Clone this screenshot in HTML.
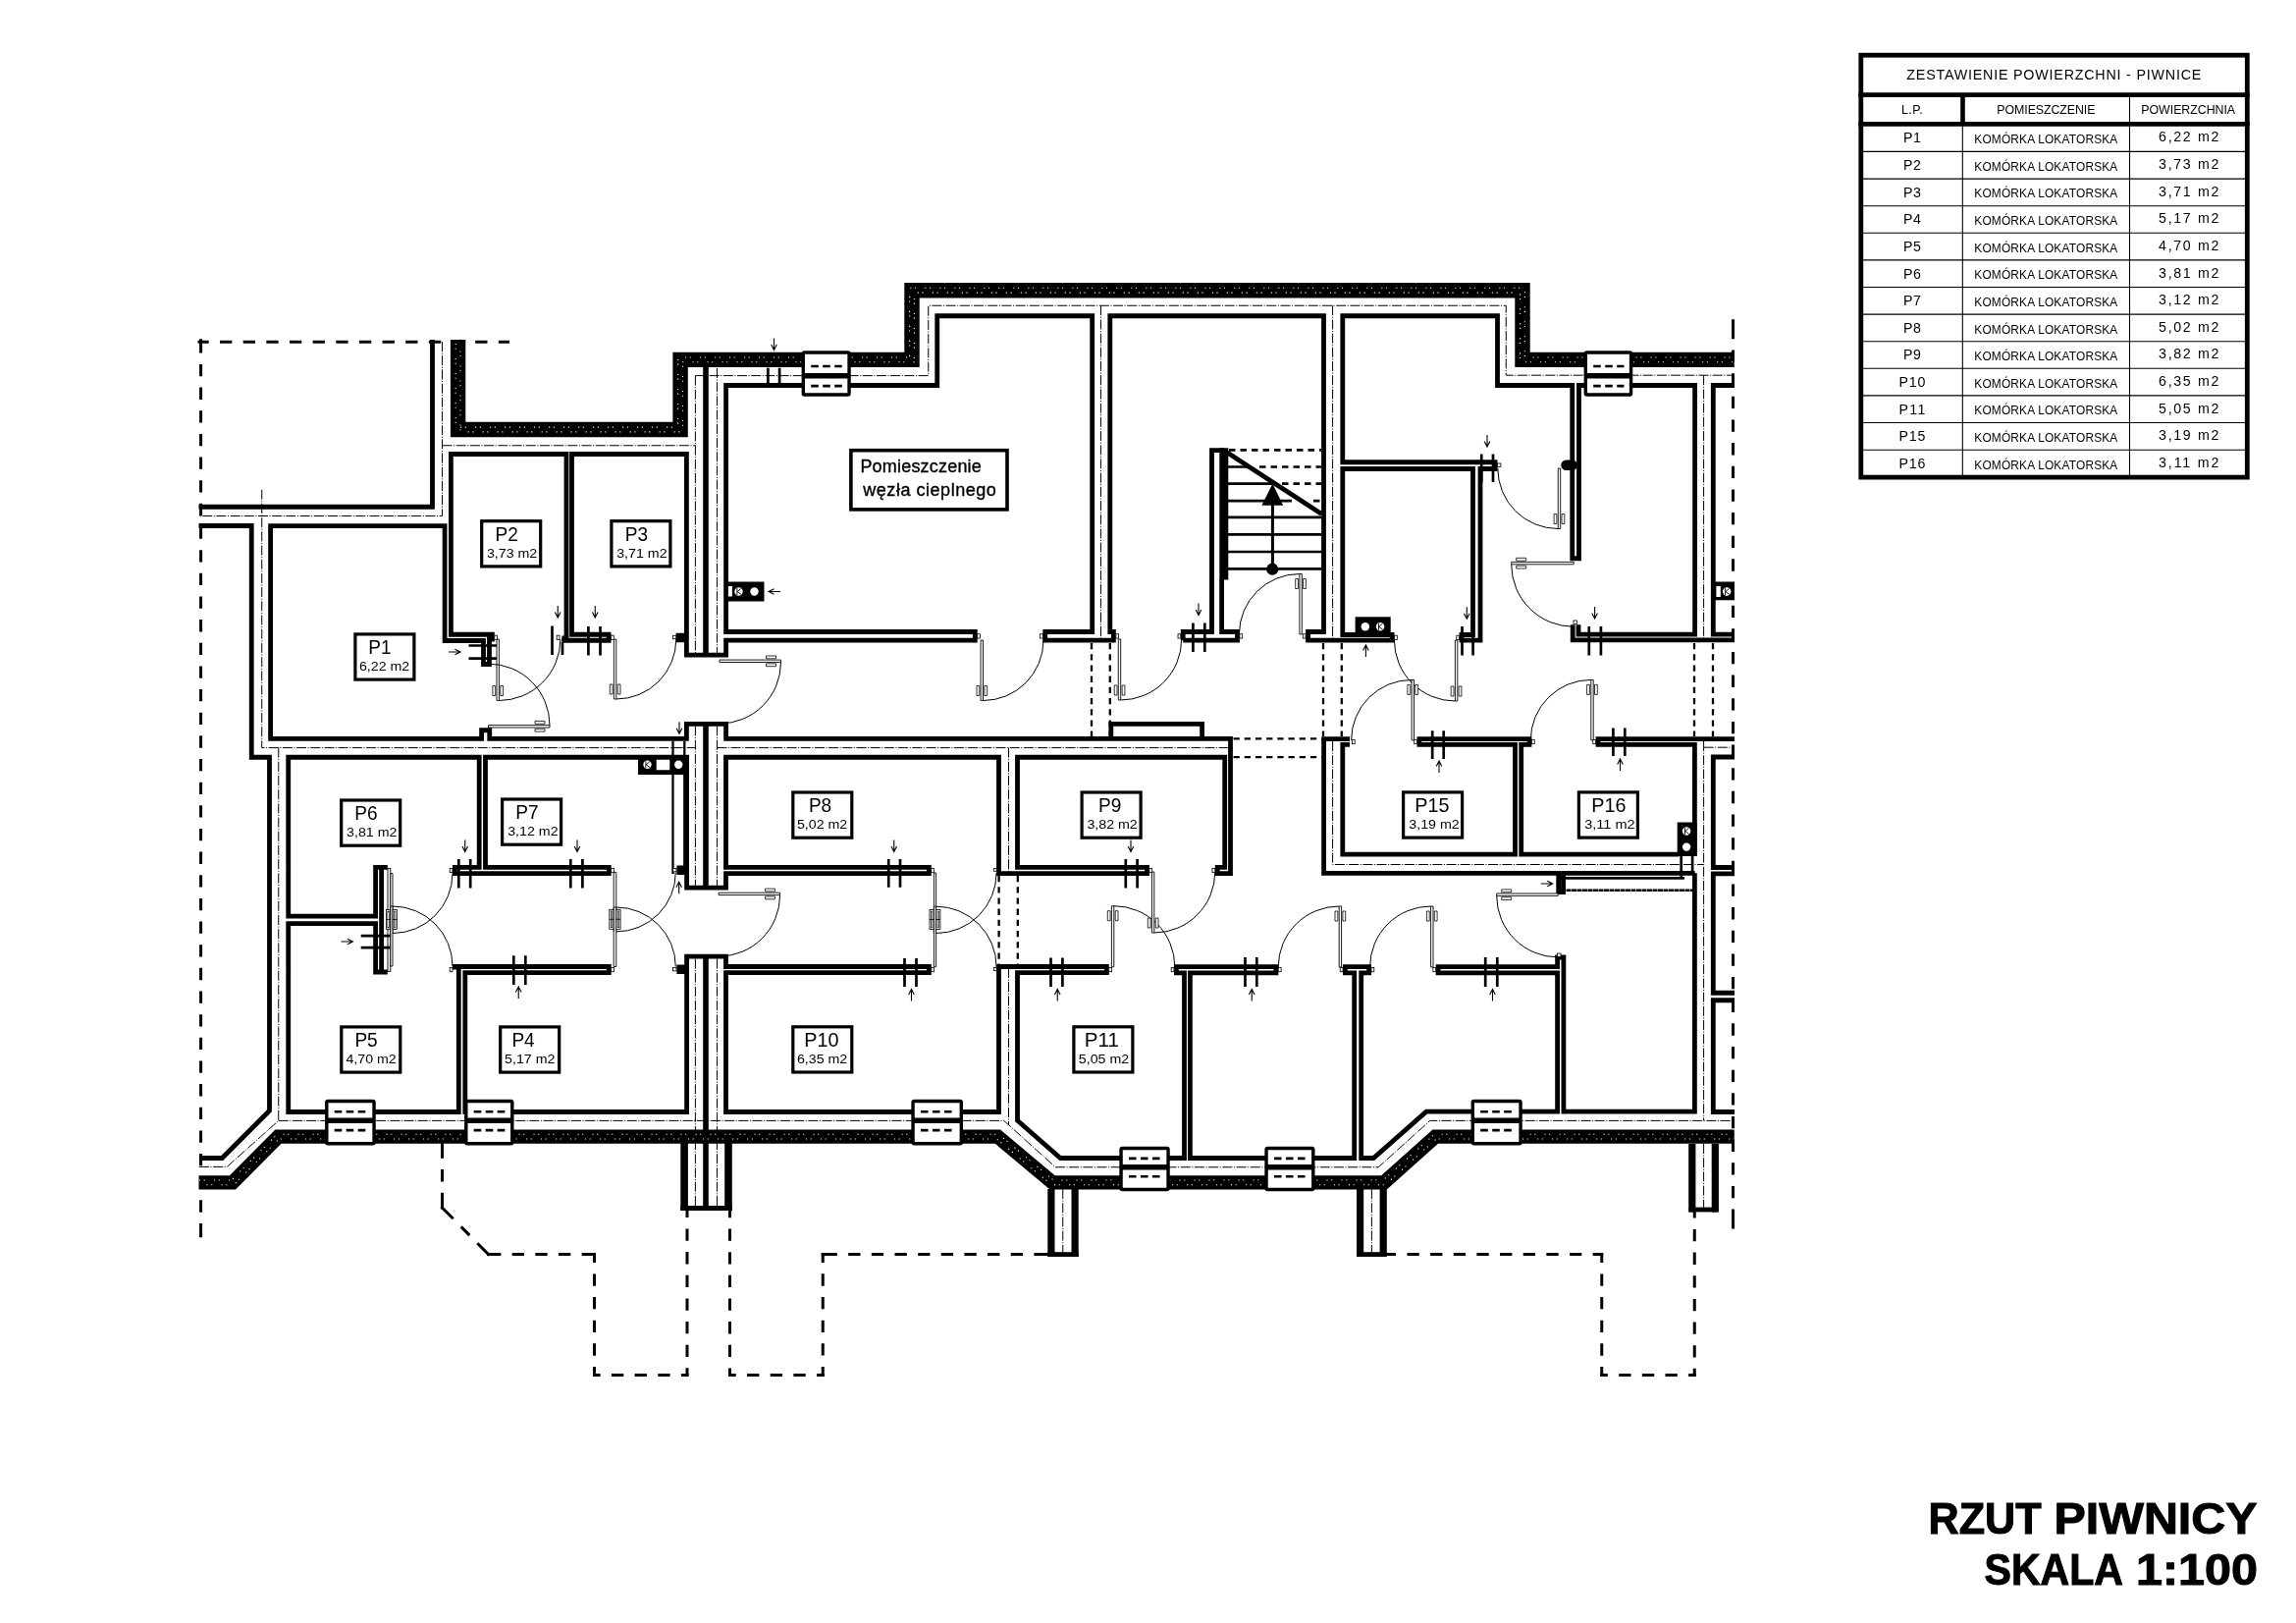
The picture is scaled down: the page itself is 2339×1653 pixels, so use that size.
<!DOCTYPE html>
<html lang="pl"><head><meta charset="utf-8"><title>Rzut piwnicy</title>
<style>
html,body{margin:0;padding:0;background:#fff}
svg{display:block;will-change:transform}
text{font-family:"Liberation Sans", "DejaVu Sans", sans-serif;fill:#000}
.r{fill:none;stroke:#000;stroke-width:4.8;stroke-linejoin:miter;stroke-linecap:butt}
.e{fill:none;stroke:#000;stroke-width:15.4;stroke-linejoin:miter}
.ed{fill:none;stroke:#fff;stroke-width:1.1;stroke-dasharray:1.1 3.6 1.1 9.2}
.ed2{stroke-dashoffset:7.5}
.c{fill:none;stroke:#000;stroke-width:1;stroke-dasharray:10 1.6 1 1.6}
.h{fill:none;stroke:#000;stroke-width:3;stroke-dasharray:12.3 11.35}
.hs{fill:none;stroke:#000;stroke-width:3;stroke-linecap:butt}
.l{fill:none;stroke:#000;stroke-width:2.3;stroke-dasharray:6.3 4.9}
.t{fill:none;stroke:#000;stroke-width:.9}
.k{fill:none;stroke:#000;stroke-width:2.7}
.p{fill:none;stroke:#000;stroke-width:5.6}
.dl{fill:#fff;stroke:#000;stroke-width:.9}
.da{fill:none;stroke:#000;stroke-width:1}
.dh{fill:#fff;stroke:#000;stroke-width:.8}
.ar{fill:none;stroke:#000;stroke-width:1.1}
.w{fill:#fff;stroke:#000;stroke-width:3.4}
.wb{fill:none;stroke:#000;stroke-width:5.6}
.wd{fill:none;stroke:#000;stroke-width:2.6;stroke-dasharray:7.6 4.4}
.m{fill:#fff;stroke:#000;stroke-width:.8}
.lb{fill:#fff;stroke:#000;stroke-width:3.2}
.s{fill:none;stroke:#000;stroke-width:2.7}
.sd{fill:none;stroke:#000;stroke-width:2.7;stroke-dasharray:6.5 5}
.eb{stroke-width:14.4}
.b{stroke:#000;stroke-width:.35}
.tt{stroke:#000;stroke-width:1}
.pr{fill:none;stroke:#000;stroke-width:7.6}
.pr2{fill:none;stroke:#000;stroke-width:7.2}
.sw{fill:none;stroke:#000;stroke-width:9}
.s2{fill:none;stroke:#000;stroke-width:2.4;stroke-dasharray:5 .5}
.k2{fill:none;stroke:#000;stroke-width:2.3}
</style></head><body>
<svg width="2339" height="1653" viewBox="0 0 2339 1653">
<rect width="2339" height="1653" fill="#fff"/>
<g id="rzut">
<path class="hs" d="M201.50,348.20 L519.00,348.20" stroke-dasharray="11.18 11.35 12.30 11.35 12.30 11.35 12.30 11.35 12.30 11.35 12.30 11.35 12.30 11.35 12.30 11.35 12.30 11.35 12.30 11.35 12.30 11.35 12.30 11.35 12.30 11.35 11.18 0 9999"/>
<path class="hs" d="M204.60,345.30 L204.60,1260.25" stroke-dasharray="14.28 11.35 12.30 11.35 12.30 11.35 12.30 11.35 12.30 11.35 12.30 11.35 12.30 11.35 12.30 11.35 12.30 11.35 12.30 11.35 12.30 11.35 12.30 11.35 12.30 11.35 12.30 11.35 12.30 11.35 12.30 11.35 12.30 11.35 12.30 11.35 12.30 11.35 12.30 11.35 12.30 11.35 12.30 11.35 12.30 11.35 12.30 11.35 12.30 11.35 12.30 11.35 12.30 11.35 12.30 11.35 12.30 11.35 12.30 11.35 12.30 11.35 12.30 11.35 12.30 11.35 12.30 11.35 12.30 11.35 12.30 11.35 12.30 11.35 12.30 11.35 14.28 0 9999"/>
<path class="hs" d="M450.50,1163.00 L450.50,1231.50" stroke-dasharray="16.75 11.35 12.30 11.35 16.75 0 9999"/>
<path class="hs" d="M449.44,1228.93 L498.56,1278.57" stroke-dasharray="17.41 11.35 12.30 11.35 17.41 0 9999"/>
<path class="hs" d="M496.00,1277.50 L607.00,1277.50" stroke-dasharray="14.35 11.35 12.30 11.35 12.30 11.35 12.30 11.35 14.35 0 9999"/>
<path class="hs" d="M605.50,1276.00 L605.50,1402.00" stroke-dasharray="10.03 11.35 12.30 11.35 12.30 11.35 12.30 11.35 12.30 11.35 10.03 0 9999"/>
<path class="hs" d="M604.00,1400.50 L701.50,1400.50" stroke-dasharray="7.60 11.35 12.30 11.35 12.30 11.35 12.30 11.35 7.60 0 9999"/>
<path class="hs" d="M700.00,1402.00 L700.00,1231.50" stroke-dasharray="8.63 11.35 12.30 11.35 12.30 11.35 12.30 11.35 12.30 11.35 12.30 11.35 12.30 11.35 8.63 0 9999"/>
<path class="hs" d="M743.50,1231.50 L743.50,1402.00" stroke-dasharray="8.63 11.35 12.30 11.35 12.30 11.35 12.30 11.35 12.30 11.35 12.30 11.35 12.30 11.35 8.63 0 9999"/>
<path class="hs" d="M742.00,1400.50 L839.75,1400.50" stroke-dasharray="7.73 11.35 12.30 11.35 12.30 11.35 12.30 11.35 7.73 0 9999"/>
<path class="hs" d="M838.25,1402.00 L838.25,1276.00" stroke-dasharray="10.03 11.35 12.30 11.35 12.30 11.35 12.30 11.35 12.30 11.35 10.03 0 9999"/>
<path class="hs" d="M836.75,1277.50 L1069.50,1277.50" stroke-dasharray="16.10 11.35 12.30 11.35 12.30 11.35 12.30 11.35 12.30 11.35 12.30 11.35 12.30 11.35 12.30 11.35 12.30 11.35 16.10 0 9999"/>
<path class="hs" d="M1411.50,1277.50 L1633.25,1277.50" stroke-dasharray="10.60 11.35 12.30 11.35 12.30 11.35 12.30 11.35 12.30 11.35 12.30 11.35 12.30 11.35 12.30 11.35 12.30 11.35 10.60 0 9999"/>
<path class="hs" d="M1631.75,1276.00 L1631.75,1402.00" stroke-dasharray="10.03 11.35 12.30 11.35 12.30 11.35 12.30 11.35 12.30 11.35 10.03 0 9999"/>
<path class="hs" d="M1630.25,1400.50 L1727.75,1400.50" stroke-dasharray="7.60 11.35 12.30 11.35 12.30 11.35 12.30 11.35 7.60 0 9999"/>
<path class="hs" d="M1726.25,1402.00 L1726.25,1232.50" stroke-dasharray="8.13 11.35 12.30 11.35 12.30 11.35 12.30 11.35 12.30 11.35 12.30 11.35 12.30 11.35 8.13 0 9999"/>
<path class="hs" d="M1765.50,325.20 L1765.50,1251.50" stroke-dasharray="19.95 11.35 12.30 11.35 12.30 11.35 12.30 11.35 12.30 11.35 12.30 11.35 12.30 11.35 12.30 11.35 12.30 11.35 12.30 11.35 12.30 11.35 12.30 11.35 12.30 11.35 12.30 11.35 12.30 11.35 12.30 11.35 12.30 11.35 12.30 11.35 12.30 11.35 12.30 11.35 12.30 11.35 12.30 11.35 12.30 11.35 12.30 11.35 12.30 11.35 12.30 11.35 12.30 11.35 12.30 11.35 12.30 11.35 12.30 11.35 12.30 11.35 12.30 11.35 12.30 11.35 12.30 11.35 12.30 11.35 12.30 11.35 12.30 11.35 12.30 11.35 19.95 0 9999"/>
<path class="c" d="M450.5,348 V525.5 H203"/>
<path class="c" d="M450.5,453.75 H708.4"/>
<path class="c" d="M266.75,498.75 V761.6 H708.4 M730.5,761.6 H1251"/>
<path class="c" d="M283.75,761.6 V1141.4 L231.25,1188.4 H203"/>
<path class="c" d="M283.75,1141.4 H1022.75 L1075.25,1188.75 H1404.25 L1456.75,1141.4 H1766"/>
<path class="c" d="M708.4,382.6 V665 M708.4,739.5 V902 M708.4,976.5 V1230"/>
<path class="c" d="M730.5,375 V665 M730.5,739.5 V902 M730.5,976.5 V1230"/>
<path class="c" d="M708.4,382.6 H945.75 V311.25 H1534.25 V382.2 H1766"/>
<path class="c" d="M1121.5,311.25 V652"/>
<path class="c" d="M1357.6,311.25 V652 M1357.6,755 V880.5 H1735.6"/>
<path class="c" d="M1735.6,382.2 V651 M1735.6,755 V1141.4 M1735.6,1165 V1230"/>
<path class="c" d="M1027.5,761.6 V889 M1027.5,986 V1146"/>
<path class="c" d="M1735.6,761.2 H1766"/>
<path class="c" d="M1082.75,1211 V1276 M1397.4,1211 V1276"/>
<path class="p" d="M719,374 V667.1 M719,737.3 V904.2 M719,974.2 V1232"/>
<path class="l" d="M1112,655 V750 M1130.8,655 V750"/>
<path class="l" d="M1348,655 V750 M1366.8,655 V750"/>
<path class="l" d="M1726,655 V750 M1745,655 V750"/>
<path class="l" d="M1256.5,752.3 H1347 M1256.5,771.2 H1347"/>
<path class="l" d="M1017.6,892 V982.5 M1036.8,892 V982.5"/>
<path class="e" d="M466.6,346 V437.5 H693.1 V366.4 H929 V295.7 H1551 V366.4 H1766.75"/>
<path class="ed" d="M464.2,350 V435.1 H690.7 V364 H926.6 V293.3 H1553.4 V364 H1766"/>
<path class="ed ed2" d="M469,350 V439.9 H695.5 V368.8 H931.4 V298.1 H1548.6 V368.8 H1766"/>
<path class="e eb" d="M202.5,1204.4 H237 L283.4,1157.6 H1016.4 L1072.2,1204.4 H1410 L1462.2,1157.6 H1766.75"/>
<path class="ed" d="M203,1202 H236 L282.4,1155.2 H1017.4 L1073.2,1202 H1409 L1461.2,1155.2 H1766"/>
<path class="ed ed2" d="M203,1206.8 H238 L284.4,1160 H1015.4 L1071.2,1206.8 H1411 L1463.2,1160 H1766"/>
<path class="pr" d="M697.1,1164 V1233 M742,1164 V1233"/>
<path class="r" d="M693.3,1230.5 H745.8"/>
<path class="pr2" d="M1070.9,1211 V1280 M1095.1,1211 V1280"/>
<path class="r" d="M1067.3,1277.6 H1098.7"/>
<path class="pr2" d="M1385.6,1211 V1280 M1409.2,1211 V1280"/>
<path class="r" d="M1382.4,1277.6 H1412.4"/>
<path class="pr2" d="M1723.8,1165 V1234.5 M1747.3,1165 V1234.5"/>
<path class="r" d="M1720.6,1232 H1750.5"/>
<path class="r" d="M202.5,516.25 H440.5 V346"/>
<path class="r" d="M202.5,535.5 H256.25 V771.25 H274.5 V1131.25 L226.25,1179.5 H203"/>
<path class="r" d="M394.8,883.3 H382.6 V933.2 H293.75 V771.25 H488.2 V883.4 H463.4 V889.6 H620.3 V883.4 H494.5 V771.25 H699.6 V904.2 H739.5 V889.6 H946.4 V883.4 H739.5 V771.25 H1017.5 V889.6 H1168.5 V883.4 H1036.5 V771.25 H1247.7 V883.4 H1240.2 V889.6 H1253.5 V752.4 H739.6 V737.3 H699.4 V752.4 H498.75 V743.75 H490.6 V752.4 H275.6 V535.6 H453.1 V652.5 H492.5 V676.5 H498.5 V651.2 H501.4 V646.25 H459.4 V462.5 H577 V650 H572.4"/>
<path class="r" d="M572.4,652.25 H620.1 V646.25 H582.5 V462.5 H699.4 V667.1 H739.6 V652.2 H993.3 V643.5 H739.6 V392.5 H954.75 V321.75 H1112.7 V643.5 H1064.7 V652.2 H1134.4 V643.5 H1130.8 V321.75 H1348.5 V643.5 H1332.5 V652.2 H1418.1 V646.5 H1367.8 V477.5 H1500.5 V646.5 H1489 V652.2 H1508 V477.5 H1523.1 V470.75 H1367.8 V321.75 H1525.5 V392.5 H1601.75 V568.75 H1608.5 V392.5 H1726.6 V646.2 H1608 V636.3"/>
<path d="M1595.5,473.8 H1601.75" stroke="#000" stroke-width="10.5" stroke-linecap="round" fill="none"/>
<path class="r" d="M1602.2,636.3 V651.9 H1767"/>
<path class="r" d="M1205.2,652.2 V643.5 H1234.5 V458.7 H1246.8"/>
<path class="r" d="M1205.2,652.2 H1260.5 V643.5 H1244.6 V590"/>
<path class="sw" d="M1246.8,456.3 V590.5"/>
<path class="r" d="M1767,392.5 H1745.3 V646.2 H1767"/>
<path class="r" d="M1767,771 H1745.3 V883.5 H1767"/>
<path class="r" d="M1767,889.8 H1745.3 V1011.25 H1767"/>
<path class="r" d="M1767,1018.75 H1745.3 V1132.5 H1767"/>
<path class="r" d="M394.8,990 H382.6 V940.6 H293.75 V1132.5 H467.3 V984.7"/>
<path class="r" d="M388.6,883.3 V990"/>
<path class="r" d="M463.4,987.5 V984.5 H620.3 V990.7 H473.8 V1132.5 H699.6 V974.2 H739.5 V984.5 H946.4 V990.7 H739.5 V1132.5 H1017.5 V984.5"/>
<path class="r" d="M1015.2,984.5 H1127.4 V990.7 H1036.5 V1141.25 L1080.25,1179.5 H1206.5 V990.8 H1198.4 V984.6 H1299.9 V990.8 H1212.4 V1179.5 H1379.7 V990.8 H1370.4 V984.6 H1394.6 V990.8 H1386.7 V1179.5 H1399.25 L1453,1132.2 H1586.6 V990.8 H1465.1 V984.6 H1586.6 V975 H1592.9 V1132.2 H1726.4 V889.3"/>
<path class="r" d="M1375,752.6 H1348.6 V889.3 H1587.7 V908.5 H1592.6 V889.3"/>
<path class="r" d="M1375,758.3 H1367.8 V870.2 H1543.5 V758.3 H1445.9 V752.6 H1558 V758.3 H1549.7 V870.2 H1710"/>
<path class="r" d="M1767,752.6 H1628 V758.3 H1726.4 V872"/>
<path class="r" d="M1590.2,889.3 H1726.6"/>
<path class="k" d="M1590,894.4 H1716 M1712.7,872 V895.5 M1724.1,872 V890"/>
<path class="s2" d="M1590,906.7 H1726"/>
<path class="r" d="M1131.8,752.5 V737.4 H1224.6 V752.5"/>
<path d="M688.6,649.5 H699.4 M689.4,886.3 H699.6 M689.4,987.3 H699.6" stroke="#000" stroke-width="9.6" fill="none"/>
<path class="k2" d="M685.5,755 V890 M697.3,755 V884"/>
<path class="s" d="M1249,475.5 H1275 M1249,492.6 H1297 M1249,510.2 H1316 M1249,526.8 H1346 M1249,544.4 H1346 M1249,562 H1346 M1249,579.4 H1346"/>
<path class="sd" d="M1252,458.4 H1346 M1283,475.5 H1346 M1306,492.6 H1346 M1338,510.2 H1346"/>
<path d="M1248.5,459.8 L1346.3,523.4" stroke="#000" stroke-width="4.8" fill="none"/>
<path d="M1296.4,579 V512" stroke="#000" stroke-width="3" fill="none"/>
<path d="M1296.4,492.5 L1307.2,514.8 H1285.4 Z" fill="#000"/>
<circle cx="1296.2" cy="579.7" r="6.1" fill="#000"/>
<rect x="818.3" y="359.0" width="46.75" height="43.0" rx="1.2" ry="1.2" class="w"/>
<path class="wb" d="M818.3,382.80 H865.05"/>
<path class="wd" d="M826.20,373.00 H857.95 M826.20,393.15 H857.95"/>
<rect x="1615.3" y="359.0" width="46.25" height="43.0" rx="1.2" ry="1.2" class="w"/>
<path class="wb" d="M1615.3,382.80 H1661.55"/>
<path class="wd" d="M1623.20,373.00 H1654.45 M1623.20,393.15 H1654.45"/>
<rect x="332.8" y="1121.5" width="48.25" height="43.25" rx="1.2" ry="1.2" class="w"/>
<path class="wb" d="M332.8,1141.28 H381.05"/>
<path class="wd" d="M340.70,1132.26 H373.95 M340.70,1151.08 H373.95"/>
<rect x="474.8" y="1121.5" width="46.99999999999994" height="43.25" rx="1.2" ry="1.2" class="w"/>
<path class="wb" d="M474.8,1141.28 H521.8"/>
<path class="wd" d="M482.70,1132.26 H514.70 M482.70,1151.08 H514.70"/>
<rect x="930.05" y="1121.5" width="49.25" height="43.25" rx="1.2" ry="1.2" class="w"/>
<path class="wb" d="M930.05,1141.28 H979.3"/>
<path class="wd" d="M937.95,1132.26 H972.20 M937.95,1151.08 H972.20"/>
<rect x="1500.3" y="1121.5" width="48.75" height="43.25" rx="1.2" ry="1.2" class="w"/>
<path class="wb" d="M1500.3,1141.28 H1549.05"/>
<path class="wd" d="M1508.20,1132.26 H1541.95 M1508.20,1151.08 H1541.95"/>
<rect x="1142.05" y="1169.5" width="48.0" height="42" rx="1.2" ry="1.2" class="w"/>
<path class="wb" d="M1142.05,1188.70 H1190.05"/>
<path class="wd" d="M1149.95,1179.92 H1182.95 M1149.95,1198.24 H1182.95"/>
<rect x="1290.05" y="1169.5" width="47.75" height="42" rx="1.2" ry="1.2" class="w"/>
<path class="wb" d="M1290.05,1188.70 H1337.8"/>
<path class="wd" d="M1297.95,1179.92 H1330.70 M1297.95,1198.24 H1330.70"/>
<rect x="739" y="592.5" width="39.5" height="20.0" fill="#000"/>
<circle cx="752.5" cy="602.5" r="4.2" fill="#fff"/>
<path d="M750.9,599.1 V605.9 M754.7,599.5 L751.3,602.5 L755.1,605.5" stroke="#000" stroke-width="0.9" fill="none"/>
<circle cx="768.5" cy="602.5" r="4.2" fill="#fff"/>
<rect x="650" y="770" width="51.5" height="19" fill="#000"/>
<circle cx="659.5" cy="778.75" r="4.2" fill="#fff"/>
<path d="M657.9,775.35 V782.15 M661.7,775.75 L658.3,778.75 L662.1,781.75" stroke="#000" stroke-width="0.9" fill="none"/>
<circle cx="691.25" cy="778.75" r="4.2" fill="#fff"/>
<rect x="668.75" y="773.75" width="13.5" height="10.5" fill="#fff"/>
<rect x="1380.6" y="628.3" width="36.100000000000136" height="18.200000000000045" fill="#000"/>
<circle cx="1390.8" cy="638.3" r="4.2" fill="#fff"/>
<circle cx="1406.1" cy="638.3" r="4.2" fill="#fff"/>
<path d="M1404.5,634.9 V641.6999999999999 M1408.3,635.3 L1404.8999999999999,638.3 L1408.6999999999998,641.3" stroke="#000" stroke-width="0.9" fill="none"/>
<rect x="1708.7" y="837.5" width="19.899999999999864" height="34.5" fill="#000"/>
<circle cx="1718.1" cy="846.5" r="4.2" fill="#fff"/>
<path d="M1716.5,843.1 V849.9 M1720.3,843.5 L1716.8999999999999,846.5 L1720.6999999999998,849.5" stroke="#000" stroke-width="0.9" fill="none"/>
<circle cx="1718.1" cy="862.6" r="4.2" fill="#fff"/>
<rect x="1745.3" y="592.5" width="21.700000000000045" height="18.799999999999955" fill="#000"/>
<circle cx="1759.2" cy="602.5" r="4.2" fill="#fff"/>
<path d="M1757.6000000000001,599.1 V605.9 M1761.4,599.5 L1758.0,602.5 L1761.8,605.5" stroke="#000" stroke-width="0.9" fill="none"/>
<rect x="1748.4" y="597" width="4.4" height="11" fill="#fff"/>
<rect x="741.9" y="597" width="4" height="10.5" fill="#fff"/>
<path class="dl" d="M508.40,651.00 L508.40,713.50 L506.00,713.50 L506.00,651.00 Z"/>
<path class="da" d="M508.40,713.50 A62.5,62.5 0 0 0 570.90,651.00"/>
<path class="dh" d="M509.80,698.50 L509.80,708.50 L512.60,708.50 L512.60,698.50 Z"/>
<path class="dh" d="M504.70,698.50 L504.70,708.50 L501.90,708.50 L501.90,698.50 Z"/>
<path class="dl" d="M497.50,738.60 L560.00,738.60 L560.00,741.00 L497.50,741.00 Z"/>
<path class="da" d="M560.00,738.60 A62.5,62.5 0 0 0 497.50,676.10"/>
<path class="dh" d="M545.00,737.20 L555.00,737.20 L555.00,734.40 L545.00,734.40 Z"/>
<path class="dh" d="M545.00,742.30 L555.00,742.30 L555.00,745.10 L545.00,745.10 Z"/>
<path class="dl" d="M627.80,651.00 L627.80,712.00 L625.40,712.00 L625.40,651.00 Z"/>
<path class="da" d="M627.80,712.00 A61,61 0 0 0 688.80,651.00"/>
<path class="dh" d="M629.20,697.00 L629.20,707.00 L632.00,707.00 L632.00,697.00 Z"/>
<path class="dh" d="M624.10,697.00 L624.10,707.00 L621.30,707.00 L621.30,697.00 Z"/>
<path class="dl" d="M733.00,674.50 L795.50,674.50 L795.50,672.10 L733.00,672.10 Z"/>
<path class="da" d="M795.50,674.50 A62.5,62.5 0 0 1 733.00,737.00"/>
<path class="dh" d="M780.50,675.90 L790.50,675.90 L790.50,678.70 L780.50,678.70 Z"/>
<path class="dh" d="M780.50,670.80 L790.50,670.80 L790.50,668.00 L780.50,668.00 Z"/>
<path class="dl" d="M1001.50,652.00 L1001.50,713.50 L999.10,713.50 L999.10,652.00 Z"/>
<path class="da" d="M1001.50,713.50 A61.5,61.5 0 0 0 1063.00,652.00"/>
<path class="dh" d="M1002.90,698.50 L1002.90,708.50 L1005.70,708.50 L1005.70,698.50 Z"/>
<path class="dh" d="M997.80,698.50 L997.80,708.50 L995.00,708.50 L995.00,698.50 Z"/>
<path class="dl" d="M1141.70,651.00 L1141.70,713.00 L1139.30,713.00 L1139.30,651.00 Z"/>
<path class="da" d="M1141.70,713.00 A62,62 0 0 0 1203.70,651.00"/>
<path class="dh" d="M1143.10,698.00 L1143.10,708.00 L1145.90,708.00 L1145.90,698.00 Z"/>
<path class="dh" d="M1138.00,698.00 L1138.00,708.00 L1135.20,708.00 L1135.20,698.00 Z"/>
<path class="dl" d="M1323.90,646.00 L1323.90,584.50 L1326.30,584.50 L1326.30,646.00 Z"/>
<path class="da" d="M1323.90,584.50 A61.5,61.5 0 0 0 1262.40,646.00"/>
<path class="dh" d="M1322.50,599.50 L1322.50,589.50 L1319.70,589.50 L1319.70,599.50 Z"/>
<path class="dh" d="M1327.60,599.50 L1327.60,589.50 L1330.40,589.50 L1330.40,599.50 Z"/>
<path class="dl" d="M1482.40,652.00 L1482.40,714.00 L1484.80,714.00 L1484.80,652.00 Z"/>
<path class="da" d="M1482.40,714.00 A62,62 0 0 1 1420.40,652.00"/>
<path class="dh" d="M1481.00,699.00 L1481.00,709.00 L1478.20,709.00 L1478.20,699.00 Z"/>
<path class="dh" d="M1486.10,699.00 L1486.10,709.00 L1488.90,709.00 L1488.90,699.00 Z"/>
<path class="dl" d="M1587.30,477.00 L1587.30,538.50 L1589.70,538.50 L1589.70,477.00 Z"/>
<path class="da" d="M1587.30,538.50 A61.5,61.5 0 0 1 1525.80,477.00"/>
<path class="dh" d="M1585.90,523.50 L1585.90,533.50 L1583.10,533.50 L1583.10,523.50 Z"/>
<path class="dh" d="M1591.00,523.50 L1591.00,533.50 L1593.80,533.50 L1593.80,523.50 Z"/>
<path class="dl" d="M1603.20,574.80 L1539.70,574.80 L1539.70,572.40 L1603.20,572.40 Z"/>
<path class="da" d="M1539.70,574.80 A63.5,63.5 0 0 0 1603.20,638.30"/>
<path class="dh" d="M1554.70,576.20 L1544.70,576.20 L1544.70,579.00 L1554.70,579.00 Z"/>
<path class="dh" d="M1554.70,571.10 L1544.70,571.10 L1544.70,568.30 L1554.70,568.30 Z"/>
<rect x="395" y="884.4" width="2.8" height="105" class="dl"/>
<path class="dl" d="M400.00,889.50 L400.00,950.50 L397.80,950.50 L397.80,889.50 Z"/>
<path class="da" d="M400.00,950.50 A61,61 0 0 0 461.00,889.50"/>
<path class="dl" d="M400.00,984.00 L400.00,923.00 L397.80,923.00 L397.80,984.00 Z"/>
<path class="da" d="M400.00,923.00 A61,61 0 0 1 461.00,984.00"/>
<rect x="393.40" y="926.50" width="4.2" height="20" class="dh"/>
<rect x="394.80" y="928.10" width="1.5" height="16.8" fill="none" stroke="#000" stroke-width=".6"/>
<rect x="400.10" y="926.50" width="4.2" height="20" class="dh"/>
<rect x="401.50" y="928.10" width="1.5" height="16.8" fill="none" stroke="#000" stroke-width=".6"/>
<path class="dh" d="M393.40,936.5 H397.80 M400.00,936.5 H404.30"/>
<path class="dl" d="M627.80,888.40 L627.80,948.90 L625.20,948.90 L625.20,888.40 Z"/>
<path class="da" d="M627.80,948.90 A60.5,60.5 0 0 0 688.30,888.40"/>
<path class="dl" d="M627.80,984.50 L627.80,924.00 L625.20,924.00 L625.20,984.50 Z"/>
<path class="da" d="M627.80,924.00 A60.5,60.5 0 0 1 688.30,984.50"/>
<rect x="620.80" y="926.30" width="4.2" height="20" class="dh"/>
<rect x="622.20" y="927.90" width="1.5" height="16.8" fill="none" stroke="#000" stroke-width=".6"/>
<rect x="627.90" y="926.30" width="4.2" height="20" class="dh"/>
<rect x="629.30" y="927.90" width="1.5" height="16.8" fill="none" stroke="#000" stroke-width=".6"/>
<path class="dh" d="M620.80,936.3 H625.20 M627.80,936.3 H632.10"/>
<path class="dl" d="M732.10,911.60 L794.60,911.60 L794.60,909.20 L732.10,909.20 Z"/>
<path class="da" d="M794.60,911.60 A62.5,62.5 0 0 1 732.10,974.10"/>
<path class="dh" d="M779.60,913.00 L789.60,913.00 L789.60,915.80 L779.60,915.80 Z"/>
<path class="dh" d="M779.60,907.90 L789.60,907.90 L789.60,905.10 L779.60,905.10 Z"/>
<path class="dl" d="M953.60,889.00 L953.60,950.50 L951.40,950.50 L951.40,889.00 Z"/>
<path class="da" d="M953.60,950.50 A61.5,61.5 0 0 0 1015.10,889.00"/>
<path class="dl" d="M953.60,984.70 L953.60,923.20 L951.40,923.20 L951.40,984.70 Z"/>
<path class="da" d="M953.60,923.20 A61.5,61.5 0 0 1 1015.10,984.70"/>
<rect x="947.00" y="926.50" width="4.2" height="20" class="dh"/>
<rect x="948.40" y="928.10" width="1.5" height="16.8" fill="none" stroke="#000" stroke-width=".6"/>
<rect x="953.70" y="926.50" width="4.2" height="20" class="dh"/>
<rect x="955.10" y="928.10" width="1.5" height="16.8" fill="none" stroke="#000" stroke-width=".6"/>
<path class="dh" d="M947.00,936.5 H951.40 M953.60,936.5 H957.90"/>
<path class="dl" d="M1134.80,984.70 L1134.80,922.70 L1132.40,922.70 L1132.40,984.70 Z"/>
<path class="da" d="M1134.80,922.70 A62,62 0 0 1 1196.80,984.70"/>
<path class="dh" d="M1136.20,937.70 L1136.20,927.70 L1139.00,927.70 L1139.00,937.70 Z"/>
<path class="dh" d="M1131.10,937.70 L1131.10,927.70 L1128.30,927.70 L1128.30,937.70 Z"/>
<path class="dl" d="M1175.80,888.00 L1175.80,950.00 L1173.40,950.00 L1173.40,888.00 Z"/>
<path class="da" d="M1175.80,950.00 A62,62 0 0 0 1237.80,888.00"/>
<path class="dh" d="M1177.20,935.00 L1177.20,945.00 L1180.00,945.00 L1180.00,935.00 Z"/>
<path class="dh" d="M1172.10,935.00 L1172.10,945.00 L1169.30,945.00 L1169.30,935.00 Z"/>
<path class="dl" d="M1438.10,753.90 L1438.10,692.40 L1440.50,692.40 L1440.50,753.90 Z"/>
<path class="da" d="M1438.10,692.40 A61.5,61.5 0 0 0 1376.60,753.90"/>
<path class="dh" d="M1436.70,707.40 L1436.70,697.40 L1433.90,697.40 L1433.90,707.40 Z"/>
<path class="dh" d="M1441.80,707.40 L1441.80,697.40 L1444.60,697.40 L1444.60,707.40 Z"/>
<path class="dl" d="M1620.80,753.90 L1620.80,692.40 L1623.20,692.40 L1623.20,753.90 Z"/>
<path class="da" d="M1620.80,692.40 A61.5,61.5 0 0 0 1559.30,753.90"/>
<path class="dh" d="M1619.40,707.40 L1619.40,697.40 L1616.60,697.40 L1616.60,707.40 Z"/>
<path class="dh" d="M1624.50,707.40 L1624.50,697.40 L1627.30,697.40 L1627.30,707.40 Z"/>
<path class="dl" d="M1364.20,985.00 L1364.20,923.00 L1366.60,923.00 L1366.60,985.00 Z"/>
<path class="da" d="M1364.20,923.00 A62,62 0 0 0 1302.20,985.00"/>
<path class="dh" d="M1362.80,938.00 L1362.80,928.00 L1360.00,928.00 L1360.00,938.00 Z"/>
<path class="dh" d="M1367.90,938.00 L1367.90,928.00 L1370.70,928.00 L1370.70,938.00 Z"/>
<path class="dl" d="M1457.60,985.00 L1457.60,923.00 L1460.00,923.00 L1460.00,985.00 Z"/>
<path class="da" d="M1457.60,923.00 A62,62 0 0 0 1395.60,985.00"/>
<path class="dh" d="M1456.20,938.00 L1456.20,928.00 L1453.40,928.00 L1453.40,938.00 Z"/>
<path class="dh" d="M1461.30,938.00 L1461.30,928.00 L1464.10,928.00 L1464.10,938.00 Z"/>
<path class="dl" d="M1587.20,912.40 L1524.70,912.40 L1524.70,910.00 L1587.20,910.00 Z"/>
<path class="da" d="M1524.70,912.40 A62.5,62.5 0 0 0 1587.20,974.90"/>
<path class="dh" d="M1539.70,913.80 L1529.70,913.80 L1529.70,916.60 L1539.70,916.60 Z"/>
<path class="dh" d="M1539.70,908.70 L1529.70,908.70 L1529.70,905.90 L1539.70,905.90 Z"/>
<rect x="503.80" y="647.15" width="2.8" height="4.3" class="m"/>
<rect x="622.50" y="647.15" width="2.8" height="4.3" class="m"/>
<rect x="567.20" y="647.15" width="2.8" height="4.3" class="m"/>
<rect x="685.4" y="647.3" width="3.4" height="3.4" class="m"/>
<rect x="995.70" y="645.75" width="2.8" height="4.3" class="m"/>
<rect x="1136.80" y="645.75" width="2.8" height="4.3" class="m"/>
<rect x="1262.90" y="645.75" width="2.8" height="4.3" class="m"/>
<rect x="1059.50" y="645.75" width="2.8" height="4.3" class="m"/>
<rect x="1200.00" y="645.75" width="2.8" height="4.3" class="m"/>
<rect x="1327.30" y="645.75" width="2.8" height="4.3" class="m"/>
<rect x="1420.50" y="647.25" width="2.8" height="4.3" class="m"/>
<rect x="1483.80" y="647.25" width="2.8" height="4.3" class="m"/>
<rect x="622.70" y="884.35" width="2.8" height="4.3" class="m"/>
<rect x="948.80" y="884.35" width="2.8" height="4.3" class="m"/>
<rect x="1170.90" y="884.35" width="2.8" height="4.3" class="m"/>
<rect x="458.20" y="884.35" width="2.8" height="4.3" class="m"/>
<rect x="1235.00" y="884.35" width="2.8" height="4.3" class="m"/>
<rect x="622.70" y="985.45" width="2.8" height="4.3" class="m"/>
<rect x="948.80" y="985.45" width="2.8" height="4.3" class="m"/>
<rect x="1129.80" y="985.45" width="2.8" height="4.3" class="m"/>
<rect x="1302.30" y="985.45" width="2.8" height="4.3" class="m"/>
<rect x="1397.00" y="985.45" width="2.8" height="4.3" class="m"/>
<rect x="458.20" y="985.45" width="2.8" height="4.3" class="m"/>
<rect x="1193.20" y="985.45" width="2.8" height="4.3" class="m"/>
<rect x="1365.20" y="985.45" width="2.8" height="4.3" class="m"/>
<rect x="1459.90" y="985.45" width="2.8" height="4.3" class="m"/>
<rect x="685.6" y="884.4" width="3.4" height="3.4" class="m"/>
<rect x="685.6" y="985.5" width="3.4" height="3.4" class="m"/>
<rect x="1012.3" y="884.4" width="2.9" height="2.9" class="m"/>
<rect x="1012.3" y="985.5" width="2.9" height="2.9" class="m"/>
<rect x="1377.40" y="753.35" width="2.8" height="4.3" class="m"/>
<rect x="1560.40" y="753.35" width="2.8" height="4.3" class="m"/>
<rect x="1440.70" y="753.35" width="2.8" height="4.3" class="m"/>
<rect x="1622.80" y="753.35" width="2.8" height="4.3" class="m"/>
<rect x="1525.5" y="472" width="3.4" height="3.4" class="m"/>
<rect x="1603" y="632" width="3.6" height="3.6" class="m"/>
<rect x="1586.4" y="971" width="3.6" height="3.6" class="m"/>
<path class="k" d="M477.5,657.5 H506 M477.5,670.6 H506"/>
<path class="ar" d="M457.00,664.00 L469.00,664.00 M463.50,666.80 L469.00,664.00 L463.50,661.20"/>
<path class="k" d="M562.5,637.5 V667 M573,654 V667"/>
<path class="ar" d="M568.25,617.00 L568.25,629.00 M571.05,623.50 L568.25,629.00 L565.45,623.50"/>
<path class="ar" d="M606.25,617.00 L606.25,629.00 M609.05,623.50 L606.25,629.00 L603.45,623.50"/>
<path class="k" d="M599.4,638 V667.5 M611.5,638 V667.5"/>
<path class="k" d="M782.4,374.8 V390 M794.1,374.8 V390"/>
<path class="ar" d="M788.50,344.50 L788.50,356.50 M791.30,351.00 L788.50,356.50 L785.70,351.00"/>
<path class="ar" d="M795.00,602.50 L783.00,602.50 M788.50,599.70 L783.00,602.50 L788.50,605.30"/>
<path class="k" d="M1215.4,634.6 V663.9 M1227.3,634.6 V663.9"/>
<path class="ar" d="M1221.00,614.50 L1221.00,626.50 M1223.80,621.00 L1221.00,626.50 L1218.20,621.00"/>
<path class="k" d="M1489.5,637.9 V667.6 M1500.6,637.9 V667.6"/>
<path class="ar" d="M1494.30,618.20 L1494.30,630.20 M1497.10,624.70 L1494.30,630.20 L1491.50,624.70"/>
<path class="k" d="M1618.8,637.9 V667.6 M1630.9,637.9 V667.6"/>
<path class="ar" d="M1624.60,618.00 L1624.60,630.00 M1627.40,624.50 L1624.60,630.00 L1621.80,624.50"/>
<path class="k" d="M1509.25,462.5 V491 M1521,462.5 V491"/>
<path class="ar" d="M1515.00,443.00 L1515.00,455.00 M1517.80,449.50 L1515.00,455.00 L1512.20,449.50"/>
<path class="ar" d="M1391.40,669.00 L1391.40,657.00 M1388.60,662.50 L1391.40,657.00 L1394.20,662.50"/>
<path class="k" d="M467.3,875 V904.6 M479.2,875 V904.6"/>
<path class="ar" d="M473.75,855.50 L473.75,867.50 M476.55,862.00 L473.75,867.50 L470.95,862.00"/>
<path class="k" d="M581.3,875 V904.6 M593.4,875 V904.6"/>
<path class="ar" d="M588.00,855.50 L588.00,867.50 M590.80,862.00 L588.00,867.50 L585.20,862.00"/>
<path class="k" d="M523.3,973.2 V1002.9 M535.3,973.2 V1002.9"/>
<path class="ar" d="M528.25,1017.00 L528.25,1005.00 M525.45,1010.50 L528.25,1005.00 L531.05,1010.50"/>
<path class="k" d="M367.7,953.1 H397.6 M367.7,965.2 H397.6"/>
<path class="ar" d="M347.50,959.00 L359.50,959.00 M354.00,961.80 L359.50,959.00 L354.00,956.20"/>
<path class="k" d="M905.25,875 V903.75 M917,875 V903.75"/>
<path class="ar" d="M910.75,855.50 L910.75,867.50 M913.55,862.00 L910.75,867.50 L907.95,862.00"/>
<path class="k" d="M921.5,976 V1005 M933.5,976 V1005"/>
<path class="ar" d="M928.50,1019.50 L928.50,1007.50 M925.70,1013.00 L928.50,1007.50 L931.30,1013.00"/>
<path class="k" d="M1146.8,875 V904.6 M1158.6,875 V904.6"/>
<path class="ar" d="M1152.00,855.50 L1152.00,867.50 M1154.80,862.00 L1152.00,867.50 L1149.20,862.00"/>
<path class="k" d="M1070.5,975.4 V1005 M1082.4,975.4 V1005"/>
<path class="ar" d="M1077.25,1019.50 L1077.25,1007.50 M1074.45,1013.00 L1077.25,1007.50 L1080.05,1013.00"/>
<path class="k" d="M1268.5,975 V1005 M1280.3,975 V1005"/>
<path class="ar" d="M1275.25,1019.50 L1275.25,1007.50 M1272.45,1013.00 L1275.25,1007.50 L1278.05,1013.00"/>
<path class="k" d="M1513.2,975 V1005 M1525.3,975 V1005"/>
<path class="ar" d="M1520.50,1019.50 L1520.50,1007.50 M1517.70,1013.00 L1520.50,1007.50 L1523.30,1013.00"/>
<path class="k" d="M1459.2,744.3 V773 M1470.7,744.3 V773"/>
<path class="ar" d="M1466.00,787.00 L1466.00,775.00 M1463.20,780.50 L1466.00,775.00 L1468.80,780.50"/>
<path class="k" d="M1643.4,741.4 V770.1 M1655.3,741.4 V770.1"/>
<path class="ar" d="M1650.50,785.00 L1650.50,773.00 M1647.70,778.50 L1650.50,773.00 L1653.30,778.50"/>
<path class="ar" d="M1569.75,900.00 L1581.75,900.00 M1576.25,902.80 L1581.75,900.00 L1576.25,897.20"/>
<path class="ar" d="M692.00,735.20 L692.00,747.20 M694.80,741.70 L692.00,747.20 L689.20,741.70"/>
<path class="ar" d="M691.70,910.30 L691.70,898.30 M688.90,903.80 L691.70,898.30 L694.50,903.80"/>
<rect x="490.70" y="530.70" width="60" height="46.2" class="lb"/>
<text x="504.5" y="551.1" font-size="21" textLength="23.3" lengthAdjust="spacingAndGlyphs">P2</text>
<text x="495.9" y="567.5" font-size="13" textLength="51.4" lengthAdjust="spacingAndGlyphs">3,73 m2</text>
<rect x="622.90" y="530.70" width="60" height="46.2" class="lb"/>
<text x="636.7" y="551.1" font-size="21" textLength="23.3" lengthAdjust="spacingAndGlyphs">P3</text>
<text x="628.2" y="567.5" font-size="13" textLength="51.4" lengthAdjust="spacingAndGlyphs">3,71 m2</text>
<rect x="361.90" y="645.90" width="60" height="46.2" class="lb"/>
<text x="375.2" y="666.3" font-size="21" textLength="23.3" lengthAdjust="spacingAndGlyphs">P1</text>
<text x="365.9" y="682.7" font-size="13" textLength="51.4" lengthAdjust="spacingAndGlyphs">6,22 m2</text>
<rect x="347.70" y="815.00" width="60" height="46.2" class="lb"/>
<text x="361.3" y="835.4" font-size="21" textLength="23.3" lengthAdjust="spacingAndGlyphs">P6</text>
<text x="353.1" y="851.8" font-size="13" textLength="51.4" lengthAdjust="spacingAndGlyphs">3,81 m2</text>
<rect x="511.60" y="814.00" width="60" height="46.2" class="lb"/>
<text x="525.3" y="834.4" font-size="21" textLength="23.3" lengthAdjust="spacingAndGlyphs">P7</text>
<text x="517.2" y="850.8" font-size="13" textLength="51.4" lengthAdjust="spacingAndGlyphs">3,12 m2</text>
<rect x="807.80" y="807.00" width="60" height="46.2" class="lb"/>
<text x="823.9" y="827.4" font-size="21" textLength="23.3" lengthAdjust="spacingAndGlyphs">P8</text>
<text x="811.9" y="843.8" font-size="13" textLength="51.4" lengthAdjust="spacingAndGlyphs">5,02 m2</text>
<rect x="1102.10" y="807.00" width="60" height="46.2" class="lb"/>
<text x="1119.0" y="827.4" font-size="21" textLength="23.3" lengthAdjust="spacingAndGlyphs">P9</text>
<text x="1107.4" y="843.8" font-size="13" textLength="51.4" lengthAdjust="spacingAndGlyphs">3,82 m2</text>
<rect x="347.80" y="1045.90" width="60" height="46.2" class="lb"/>
<text x="361.4" y="1066.3" font-size="21" textLength="23.3" lengthAdjust="spacingAndGlyphs">P5</text>
<text x="352.4" y="1082.7" font-size="13" textLength="51.4" lengthAdjust="spacingAndGlyphs">4,70 m2</text>
<rect x="509.70" y="1045.90" width="60" height="46.2" class="lb"/>
<text x="521.4" y="1066.3" font-size="21" textLength="23.3" lengthAdjust="spacingAndGlyphs">P4</text>
<text x="514.1" y="1082.7" font-size="13" textLength="51.4" lengthAdjust="spacingAndGlyphs">5,17 m2</text>
<rect x="807.80" y="1045.80" width="60" height="46.2" class="lb"/>
<text x="819.2" y="1066.2" font-size="21" textLength="35.2" lengthAdjust="spacingAndGlyphs">P10</text>
<text x="811.9" y="1082.6" font-size="13" textLength="51.4" lengthAdjust="spacingAndGlyphs">6,35 m2</text>
<rect x="1093.90" y="1045.80" width="60" height="46.2" class="lb"/>
<text x="1104.7" y="1066.2" font-size="21" textLength="35.2" lengthAdjust="spacingAndGlyphs">P11</text>
<text x="1098.8" y="1082.6" font-size="13" textLength="51.4" lengthAdjust="spacingAndGlyphs">5,05 m2</text>
<rect x="1429.60" y="806.90" width="60" height="46.2" class="lb"/>
<text x="1441.2" y="827.3" font-size="21" textLength="35.2" lengthAdjust="spacingAndGlyphs">P15</text>
<text x="1435.3" y="843.7" font-size="13" textLength="51.4" lengthAdjust="spacingAndGlyphs">3,19 m2</text>
<rect x="1608.40" y="806.90" width="60" height="46.2" class="lb"/>
<text x="1621.3" y="827.3" font-size="21" textLength="35.2" lengthAdjust="spacingAndGlyphs">P16</text>
<text x="1614.2" y="843.7" font-size="13" textLength="51.4" lengthAdjust="spacingAndGlyphs">3,11 m2</text>
<rect x="866.9" y="458.7" width="159.1" height="60.2" fill="#fff" stroke="#000" stroke-width="3.6"/>
<text x="876.4" y="480.5" font-size="18" textLength="123.4" lengthAdjust="spacing" class="b">Pomieszczenie</text>
<text x="879.3" y="505.4" font-size="18" textLength="135.5" lengthAdjust="spacing" class="b">węzła cieplnego</text>
</g>
<g id="zestawienie">
<rect x="1895.8" y="56.2" width="393.5" height="429.9" fill="#fff" stroke="#000" stroke-width="4.8"/>
<path d="M1893.4,96.6 H2291.7 M1893.4,126.4 H2291.7" stroke="#000" stroke-width="4.8" fill="none"/>
<path d="M1999.5,99 V124" stroke="#000" stroke-width="4.6" fill="none"/>
<path d="M1999.3,128 V484 M2169.5,99 V484" stroke="#000" stroke-width="1.1" fill="none"/>
<path d="M1898,154.4 H2287 M1898,182.1 H2287 M1898,209.7 H2287 M1898,237.3 H2287 M1898,264.9 H2287 M1898,292.5 H2287 M1898,320.1 H2287 M1898,347.7 H2287 M1898,375.3 H2287 M1898,402.9 H2287 M1898,430.5 H2287 M1898,458.2 H2287" stroke="#000" stroke-width="1.1" fill="none"/>
<text x="1942.3" y="80.6" font-size="14.3" textLength="300" lengthAdjust="spacing">ZESTAWIENIE POWIERZCHNI - PIWNICE</text>
<text x="1937.1" y="116.1" font-size="12.4" textLength="21.5" lengthAdjust="spacing">L.P.</text>
<text x="2034.3" y="116.1" font-size="12.4" textLength="100.2" lengthAdjust="spacing">POMIESZCZENIE</text>
<text x="2181.3" y="116.1" font-size="12.4" textLength="95.8" lengthAdjust="spacing">POWIERZCHNIA</text>
<text x="1939" y="145.4" font-size="14.2" textLength="17.8" lengthAdjust="spacing">P1</text>
<text x="2011.3" y="146.1" font-size="11.9" textLength="146" lengthAdjust="spacing">KOMÓRKA LOKATORSKA</text>
<text x="2199.1" y="144.4" font-size="14.2" textLength="61.3" lengthAdjust="spacing">6,22 m2</text>
<text x="1939" y="173.03" font-size="14.2" textLength="17.8" lengthAdjust="spacing">P2</text>
<text x="2011.3" y="173.73" font-size="11.9" textLength="146" lengthAdjust="spacing">KOMÓRKA LOKATORSKA</text>
<text x="2199.1" y="172.03" font-size="14.2" textLength="61.3" lengthAdjust="spacing">3,73 m2</text>
<text x="1939" y="200.66" font-size="14.2" textLength="17.8" lengthAdjust="spacing">P3</text>
<text x="2011.3" y="201.36" font-size="11.9" textLength="146" lengthAdjust="spacing">KOMÓRKA LOKATORSKA</text>
<text x="2199.1" y="199.66" font-size="14.2" textLength="61.3" lengthAdjust="spacing">3,71 m2</text>
<text x="1939" y="228.29" font-size="14.2" textLength="17.8" lengthAdjust="spacing">P4</text>
<text x="2011.3" y="228.99" font-size="11.9" textLength="146" lengthAdjust="spacing">KOMÓRKA LOKATORSKA</text>
<text x="2199.1" y="227.29" font-size="14.2" textLength="61.3" lengthAdjust="spacing">5,17 m2</text>
<text x="1939" y="255.92" font-size="14.2" textLength="17.8" lengthAdjust="spacing">P5</text>
<text x="2011.3" y="256.62" font-size="11.9" textLength="146" lengthAdjust="spacing">KOMÓRKA LOKATORSKA</text>
<text x="2199.1" y="254.92" font-size="14.2" textLength="61.3" lengthAdjust="spacing">4,70 m2</text>
<text x="1939" y="283.55" font-size="14.2" textLength="17.8" lengthAdjust="spacing">P6</text>
<text x="2011.3" y="284.25" font-size="11.9" textLength="146" lengthAdjust="spacing">KOMÓRKA LOKATORSKA</text>
<text x="2199.1" y="282.55" font-size="14.2" textLength="61.3" lengthAdjust="spacing">3,81 m2</text>
<text x="1939" y="311.18" font-size="14.2" textLength="17.8" lengthAdjust="spacing">P7</text>
<text x="2011.3" y="311.88" font-size="11.9" textLength="146" lengthAdjust="spacing">KOMÓRKA LOKATORSKA</text>
<text x="2199.1" y="310.18" font-size="14.2" textLength="61.3" lengthAdjust="spacing">3,12 m2</text>
<text x="1939" y="338.81" font-size="14.2" textLength="17.8" lengthAdjust="spacing">P8</text>
<text x="2011.3" y="339.51" font-size="11.9" textLength="146" lengthAdjust="spacing">KOMÓRKA LOKATORSKA</text>
<text x="2199.1" y="337.81" font-size="14.2" textLength="61.3" lengthAdjust="spacing">5,02 m2</text>
<text x="1939" y="366.44" font-size="14.2" textLength="17.8" lengthAdjust="spacing">P9</text>
<text x="2011.3" y="367.14" font-size="11.9" textLength="146" lengthAdjust="spacing">KOMÓRKA LOKATORSKA</text>
<text x="2199.1" y="365.44" font-size="14.2" textLength="61.3" lengthAdjust="spacing">3,82 m2</text>
<text x="1934.6" y="394.07" font-size="14.2" textLength="26.8" lengthAdjust="spacing">P10</text>
<text x="2011.3" y="394.77" font-size="11.9" textLength="146" lengthAdjust="spacing">KOMÓRKA LOKATORSKA</text>
<text x="2199.1" y="393.07" font-size="14.2" textLength="61.3" lengthAdjust="spacing">6,35 m2</text>
<text x="1934.6" y="421.7" font-size="14.2" textLength="26.8" lengthAdjust="spacing">P11</text>
<text x="2011.3" y="422.4" font-size="11.9" textLength="146" lengthAdjust="spacing">KOMÓRKA LOKATORSKA</text>
<text x="2199.1" y="420.7" font-size="14.2" textLength="61.3" lengthAdjust="spacing">5,05 m2</text>
<text x="1934.6" y="449.33" font-size="14.2" textLength="26.8" lengthAdjust="spacing">P15</text>
<text x="2011.3" y="450.03" font-size="11.9" textLength="146" lengthAdjust="spacing">KOMÓRKA LOKATORSKA</text>
<text x="2199.1" y="448.33" font-size="14.2" textLength="61.3" lengthAdjust="spacing">3,19 m2</text>
<text x="1934.6" y="476.96" font-size="14.2" textLength="26.8" lengthAdjust="spacing">P16</text>
<text x="2011.3" y="477.66" font-size="11.9" textLength="146" lengthAdjust="spacing">KOMÓRKA LOKATORSKA</text>
<text x="2199.1" y="475.96" font-size="14.2" textLength="61.3" lengthAdjust="spacing">3,11 m2</text>
</g>
<g id="tytul" font-weight="bold" class="tt">
<text x="1964.6" y="1561.7" font-size="43.5" textLength="115" lengthAdjust="spacingAndGlyphs">RZUT</text>
<text x="2092.5" y="1561.7" font-size="43.5" textLength="207" lengthAdjust="spacingAndGlyphs">PIWNICY</text>
<text x="2021.5" y="1614.4" font-size="43.5" textLength="141.5" lengthAdjust="spacingAndGlyphs">SKALA</text>
<text x="2176" y="1614.4" font-size="43.5" textLength="124" lengthAdjust="spacingAndGlyphs">1:100</text>
</g>
</svg></body></html>
